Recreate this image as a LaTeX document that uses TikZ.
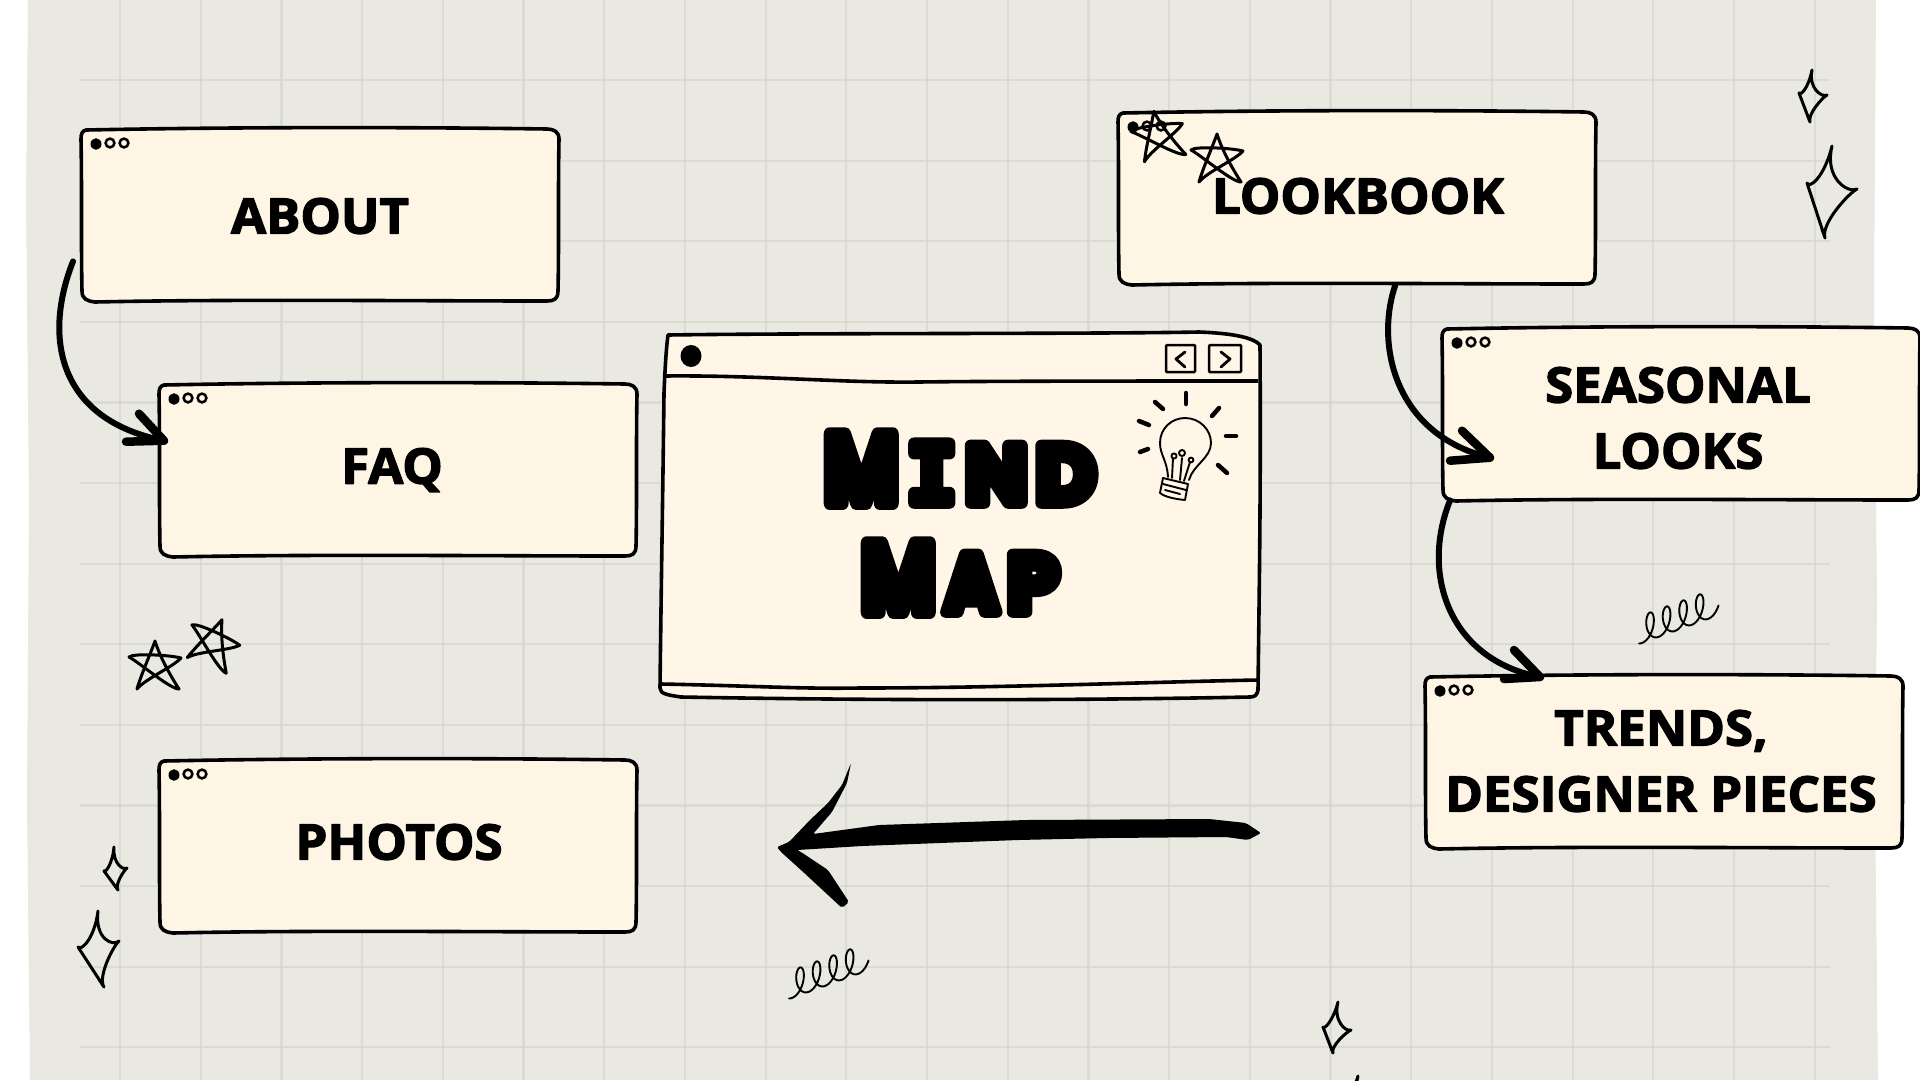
\documentclass[tikz,border=0pt]{standalone}
\usepackage{fontspec}
\usetikzlibrary{calc,arrows.meta}
\newfontfamily\labf[FakeBold=2.6]{Open Sans}
\newfontfamily\mindf[FakeBold=14]{Poppins}
\newfontfamily\mindi[FakeBold=14]{DejaVu Sans Mono}
\definecolor{paper}{HTML}{E9E9E1}
\definecolor{cream}{HTML}{FEF5E5}
\definecolor{creamm}{HTML}{FFF6E7}
\definecolor{gridc}{HTML}{D6D6CF}
\newcommand{\roundtxt}{\special{pdf:code 1 j 1 J}}
\newcommand{\bigM}{\scalebox{.82}[1]{\fontsize{98}{98}\selectfont M}}
\newcommand{\smallL}{\fontsize{82}{82}\selectfont}
\tikzset{
  x=1pt,y=-1pt,
  gridsoft/.style={draw=gridc,line width=2.2pt,opacity=.7},
  boxline/.style={draw=black,fill=cream,line width=3.6pt,line join=round},
  boxnode/.style={inner sep=0pt,minimum width=478pt,minimum height=175pt,anchor=north west},
  lab/.style={inner sep=0pt,xscale=1.04,font=\labf\bfseries\fontsize{49}{66}\selectfont\roundtxt,align=center,text=black},
  mindtxt/.style={inner sep=0pt,text=black,anchor=base,font=\mindf\bfseries\roundtxt},
  conn/.style={draw=black,line width=6pt,line cap=round},
  barb/.style={draw=black,line width=8.5pt,line cap=round,line join=round},
  doodle/.style={draw=black,line width=3pt,line join=round,line cap=round},
  thin doodle/.style={draw=black,line width=1.9pt,line join=round,line cap=round},
  ray/.style={draw=black,line width=4.5pt,line cap=round},
}
\newcommand{\wbox}[4]{% name, x, y
  \begin{scope}[shift={(#2,#3)}]
    \path[boxline] (5,3) .. controls (1,4) and (0,7) .. (0,12)
      .. controls (1,60) and (0,120) .. (1,164)
      .. controls (1,172) and (6,174) .. (14,175)
      .. controls (150,172) and (330,174) .. (466,174)
      .. controls (473,174) and (477,172) .. (477,164)
      .. controls (478,120) and (477,60) .. (478,12)
      .. controls (478,5) and (473,2) .. (466,2)
      .. controls (330,0) and (150,0) .. (5,3) -- cycle;
    \fill (15,17) ellipse (5.5 and 5.8);
    \draw[line width=2.5pt] (29,16) circle (4.4);
    \draw[line width=2.5pt] (43,16) circle (4.4);
  \end{scope}
  \node[boxnode] (#1) at (#2,#3) {};
}
\newcommand{\handstar}[4]{% x y rot scale
  \draw[doodle,shift={(#1,#2)},rotate=#3,scale=#4]
    (0,-24) .. controls (5,-8) and (15,10) .. (24,24)
    .. controls (15,24) and (-15,-2) .. (-26,-8)
    .. controls (-22,-12) and (15,-10) .. (26,-7)
    .. controls (18,2) and (-10,14) .. (-18,24)
    .. controls (-14,10) and (-5,-10) .. (0,-24);
}
\newcommand{\sparkle}[8]{% top, right, bottom, left
  \coordinate (spc) at ($(#7,#8)!.5!(#5,#6)$);
  \draw[doodle,fill=none]
    (#1,#2) .. controls ($(#1,#2)!.5!(spc)$) and ($(#3,#4)!.22!(spc)$) .. (#3,#4)
    .. controls ($(#3,#4)!.22!(spc)$) and ($(#5,#6)!.5!(spc)$) .. (#5,#6)
    .. controls ($(#5,#6)!.5!(spc)$) and ($(#7,#8)!.22!(spc)$) .. (#7,#8)
    .. controls ($(#7,#8)!.22!(spc)$) and ($(#1,#2)!.5!(spc)$) .. cycle;
  \fill (#5,#6) -- ($(#5,#6)!.3!(spc)+(1.8,0)$) -- ($(#5,#6)!.3!(spc)+(-1.8,0)$) -- cycle;
}
\newcommand{\curl}[3]{% x y rot
  \draw[thin doodle,shift={(#1,#2)},rotate=#3,xslant=.35]
    plot[smooth,samples=110,domain=-.3:26.4] ({2.8*\x+8*sin(\x r)},{-13*(1-cos(\x r))});
}
\begin{document}
\begin{tikzpicture}
\useasboundingbox (0,0) rectangle (1920,1080);
\fill[white] (0,0) rectangle (1920,1080);
\fill[paper] (28,0) -- (26,200) -- (29,500) -- (27,800) -- (30,1080) -- (1878,1080) -- (1875,800) -- (1877,600) -- (1874,300) -- (1876,0) -- cycle;
% grid
\foreach \i in {0,...,21} \draw[gridsoft] ({120+80.7*\i},0) -- ({120+80.7*\i},1080);
\foreach \i in {0,...,12} \draw[gridsoft] (80,{80+80.6*\i}) -- (1830,{80+80.6*\i});

% boxes
\wbox{about}{81}{127}{}
\wbox{faq}{159}{382}{}
\wbox{photos}{159}{758}{}
\wbox{lookbook}{1118}{110}{}
\wbox{seasonal}{1442}{326}{}
\wbox{trends}{1425}{674}{}

\node[lab] (aboutL) at (320,216) {ABOUT};
\node[lab] (faqL) at (392,470) {FAQ};
\node[lab] (photosL) at (399,842) {PHOTOS};
\node[lab] (lookbookL) at (1358,196) {LOOKBOOK};
\node[lab] (seasonalL) at (1678,418) {SEASONAL\\LOOKS};
\node[lab] (trendsL) at (1661,761) {TRENDS,\\DESIGNER PIECES};

% main window
\path[boxline,fill=creamm] (668,335) .. controls (800,333) and (1100,334) .. (1199,332)
  .. controls (1225,333) and (1252,336) .. (1260,345)
  .. controls (1261,500) and (1259,600) .. (1258,690)
  .. controls (1257,695) and (1255,697) .. (1250,697)
  .. controls (1100,700) and (900,701) .. (681,697)
  .. controls (668,695) and (660,694) .. (660,688)
  .. controls (661,600) and (663,480) .. (664,393)
  .. controls (665,370) and (666,350) .. (668,335) -- cycle;
\node[inner sep=0pt,minimum width=600pt,minimum height=365pt,anchor=north west] (main) at (660,333) {};
\draw[line width=3.6pt] (663,376) .. controls (760,375) and (840,383) .. (918,382) .. controls (1000,381) and (1150,381) .. (1258,381);
\draw[line width=3.6pt] (661,684) .. controls (760,686) and (800,689) .. (860,688) .. controls (1000,688) and (1150,682) .. (1258,680);
\fill (691,356) ellipse (10.5 and 11);
\draw[line width=2.5pt,rounded corners=1pt] (1166,345) rectangle (1195,372);
\draw[line width=2.5pt,rounded corners=1pt] (1209,345) rectangle (1241,372);
\draw[line width=2.8pt,line cap=round,line join=round] (1185,352) -- (1176,359) -- (1185,367);
\draw[line width=2.8pt,line cap=round,line join=round] (1221,352) -- (1230,359) -- (1221,367);

\node[mindtxt] (mindT) at (960,503) {\bigM\kern9pt{\mindi\bfseries\smallL I}\kern9pt\smallL N\kern9pt D};
\node[mindtxt] (mapT) at (960,612) {\bigM\kern9pt\scalebox{.9}[1]{\smallL A}\kern9pt\smallL P};

% bulb
\draw[thin doodle] (1168,477) .. controls (1167,460) and (1160,455) .. (1160,443)
  .. controls (1160,428) and (1172,418) .. (1185,418)
  .. controls (1200,418) and (1211,430) .. (1211,443)
  .. controls (1211,458) and (1193,465) .. (1189,480);
\draw[thin doodle] (1163,478) -- (1188,484) -- (1185,500) .. controls (1175,499) and (1165,497) .. (1160,493) -- cycle;
\draw[thin doodle] (1163,484) -- (1186,490);
\draw[thin doodle] (1165,490) -- (1180,494);
\draw[thin doodle] (1172,478) -- (1173,458) (1180,480) -- (1182,458) (1184,481) -- (1190,462);
\draw[thin doodle] (1174,456) circle (2.6) (1182,453) circle (3) (1191,460) circle (2.4);
\draw[ray] (1186,393) -- (1186,404);
\draw[ray] (1155,402) -- (1163,409);
\draw[ray] (1219,408) -- (1212,416);
\draw[ray] (1139,421) -- (1149,425);
\draw[ray] (1226,436) -- (1236,436);
\draw[ray] (1140,452) -- (1148,449);
\draw[ray] (1218,465) -- (1227,473);

% connectors
\coordinate (c1s) at ($(about.south west)+(-8,-41)$);
\coordinate (c1t) at ($(faq.west)+(5,-29)$);
\draw[conn] (c1s) .. controls (42,340) and (60,420) .. (c1t);
\draw[barb] ($(c1t)+(-25,-27)$) -- (c1t) -- ($(c1t)+(-38,1)$);

\coordinate (c2s) at ($(lookbook.south)+(38,0)$);
\coordinate (c2t) at ($(seasonal.west)+(48,44)$);
\draw[conn] (c2s) .. controls (1375,345) and (1395,435) .. (c2t);
\draw[barb] ($(c2t)+(-28,-27)$) -- (c2t) -- ($(c2t)+(-40,3)$);

\coordinate (c3s) at ($(seasonal.south west)+(8,-1)$);
\coordinate (c3t) at ($(trends.north west)+(115,3)$);
\draw[conn] (c3s) .. controls (1420,575) and (1450,660) .. (c3t);
\draw[barb] ($(c3t)+(-26,-27)$) -- (c3t) -- ($(c3t)+(-36,2)$);

% big arrow
\fill[black,rounded corners=2pt] (777,847) -- (789,842) -- (810,820) -- (828,803) -- (842,785) -- (851,763)
  -- (847,783) -- (832,812) -- (813,834) -- (879,825) -- (1026,820) -- (1209,819) -- (1246,823) -- (1261,833)
  -- (1248,840) -- (1226,837) -- (1107,838) -- (1018,840) -- (862,846) -- (797,850) -- (801,852)
  -- (828,870) -- (849,902) -- (842,908) -- (828,895) -- (801,870) -- (781,852) -- cycle;

% stars
\handstar{155}{665}{0}{1}
\handstar{213}{642}{-22}{1}
\handstar{1158}{135}{10}{1}
\handstar{1217}{158}{0}{1}

% sparkles
\sparkle{114}{847}{127}{868}{118}{890}{104}{871}
\sparkle{98}{911}{119}{941}{104}{987}{78}{947}
\sparkle{1812}{70}{1827}{95}{1810}{122}{1799}{93}
\sparkle{1832}{146}{1857}{189}{1825}{238}{1807}{183}
\sparkle{1338}{1002}{1351}{1030}{1333}{1053}{1323}{1027}
\begin{scope}
\clip (1300,1060) rectangle (1400,1080);
\sparkle{1358}{1076}{1372}{1104}{1352}{1127}{1343}{1101}
\end{scope}

% curls
\curl{792}{998}{20}
\curl{1642}{643}{20}
\end{tikzpicture}
\end{document}
